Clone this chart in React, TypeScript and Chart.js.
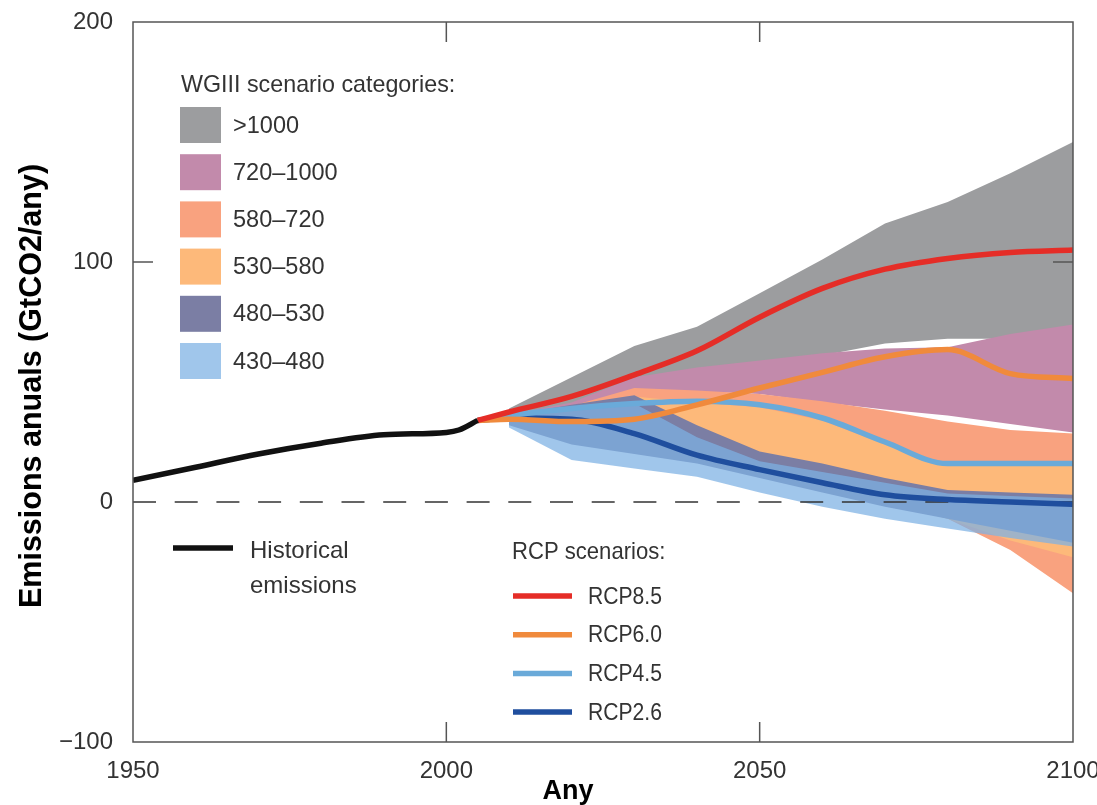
import React, { useEffect, useRef } from 'react';
import { Chart, registerables } from 'chart.js';

Chart.register(...registerables);

// ---------- data ----------
const histYears = [1950, 1960, 1970, 1980, 1990, 2000, 2002, 2005];
const histValues = [9, 14.5, 20, 24.5, 28, 29, 30, 34];

const rcpYears = [2005, 2010, 2020, 2030, 2040, 2050, 2060, 2070, 2080, 2090, 2100];
const rcp85 = [34, 37.5, 44, 53, 63, 77, 89, 97, 101.5, 104, 105];
const rcp60 = [34, 34.5, 33.5, 34.5, 40.5, 47.5, 54, 60.5, 63.5, 53.5, 51.5];
const rcp45 = [34, 36, 39, 41, 42, 40.5, 35, 25, 16, 16, 16];
const rcp26 = [34, 35, 34.5, 28.5, 19.5, 13.5, 8, 3, 1, 0, -1];

const bandYears = [2010, 2020, 2030, 2040, 2050, 2060, 2070, 2080, 2090, 2100];
const cat1000Upper = [39, 52, 65, 73, 87, 101, 116, 125, 137, 150];
const cat1000Lower = [36, 39, 47, 52, 56, 61, 66, 68, 68, 66];
const cat720Upper = [36.5, 41.5, 52, 56, 59, 62, 64, 64.5, 70, 74];
const cat720Lower = [35, 38, 46, 46, 45, 41.5, 38.5, 36, 32.5, 29];
const cat580Upper = [35.5, 40, 47.5, 46.5, 45, 42, 38, 33.5, 30, 28.5];
const cat580Lower = [34, 26, 22, 18, 12, 6, 0, -7, -20, -38];
const cat530Upper = [35, 38, 44, 41.5, 39.5, 34, 24, 15.5, 15.5, 15.5];
const cat530Lower = [34, 26, 22, 18, 12, 6, 0, -7, -16, -23];
const cat480Upper = [36, 40.5, 44.5, 32, 21, 16, 10, 5, 4, 3];
const cat480Lower = [32, 24, 20, 16, 10, 4, -2, -7, -12, -17];
const cat430Upper = [36, 39.5, 41, 27, 17, 12.5, 8, 3.5, 2.5, 1.5];
const cat430Lower = [31, 17.5, 14, 10.5, 4, -2, -7, -11, -15, -18.5];

const categoryLabels = ['>1000', '720\u20131000', '580\u2013720', '530\u2013580', '480\u2013530', '430\u2013480'];
const categoryColors = ['#9c9d9f', '#c28aab', '#f9a27f', '#fdb97a', '#7b7ea4', 'rgba(125,177,228,0.73)'];
const categoryUppers = [cat1000Upper, cat720Upper, cat580Upper, cat530Upper, cat480Upper, cat430Upper];
const categoryLowers = [cat1000Lower, cat720Lower, cat580Lower, cat530Lower, cat480Lower, cat430Lower];

const rcpLabels = ['RCP8.5', 'RCP6.0', 'RCP4.5', 'RCP2.6'];
const rcpColors = ['#e52d27', '#f08a3c', '#6aaad9', '#1f4e9e'];
const rcpSeries = [rcp85, rcp60, rcp45, rcp26];

const xTickStep = 50;
const yTickStep = 100;
const innerYTicks = [100];
const innerXTicks = [2000, 2050];

const yTitle = 'Emissions anuals (GtCO2/any)';
const xTitle = 'Any';
const legendTitle = 'WGIII scenario categories:';
const rcpTitle = 'RCP scenarios:';
const histLabel = ['Historical', 'emissions'];

const FONT = "'Liberation Sans', Arial, sans-serif";
const TEXT = '#333333';

function txt(ctx: CanvasRenderingContext2D, s: string, x: number, y: number, font: string, color: string,
  align: CanvasTextAlign = 'left', baseline: CanvasTextBaseline = 'middle', sx = 1) {
  ctx.save();
  ctx.font = font;
  ctx.fillStyle = color;
  ctx.textAlign = align;
  ctx.textBaseline = baseline;
  ctx.translate(x, y);
  ctx.scale(sx, 1);
  ctx.fillText(s, 0, 0);
  ctx.restore();
}

const overlayPlugin = {
  id: 'overlay',
  afterDraw(chart: any) {
    const ctx: CanvasRenderingContext2D = chart.ctx;
    const { left, right, top, bottom } = chart.chartArea;
    const xs = chart.scales.x;
    const ys = chart.scales.y;
    ctx.save();
    // frame
    ctx.strokeStyle = '#555555';
    ctx.lineWidth = 1.5;
    ctx.strokeRect(left, top, right - left, bottom - top);
    // inner tick marks
    ctx.beginPath();
    innerYTicks.forEach((v) => {
      const py = ys.getPixelForValue(v);
      ctx.moveTo(left, py); ctx.lineTo(left + 20, py);
      ctx.moveTo(right, py); ctx.lineTo(right - 20, py);
    });
    innerXTicks.forEach((v) => {
      const px = xs.getPixelForValue(v);
      ctx.moveTo(px, bottom); ctx.lineTo(px, bottom - 20);
      ctx.moveTo(px, top); ctx.lineTo(px, top + 20);
    });
    ctx.stroke();

    // axis titles
    ctx.save();
    ctx.translate(41, (top + bottom) / 2 + 4);
    ctx.rotate(-Math.PI / 2);
    ctx.font = `bold 30.5px ${FONT}`;
    ctx.fillStyle = '#000';
    ctx.textAlign = 'center';
    ctx.textBaseline = 'alphabetic';
    ctx.fillText(yTitle, 0, 0);
    ctx.restore();
    txt(ctx, xTitle, 568, 799, `bold 27px ${FONT}`, '#000', 'center', 'alphabetic');

    // category legend
    txt(ctx, legendTitle, 181, 92, `24px ${FONT}`, TEXT, 'left', 'alphabetic', 0.97);
    categoryLabels.forEach((lab, i) => {
      const y0 = 107 + i * 47.2;
      ctx.fillStyle = categoryColors[i];
      ctx.fillRect(180, y0, 41, 36);
      txt(ctx, lab, 233, y0 + 19, `24px ${FONT}`, TEXT, 'left', 'middle', 0.98);
    });

    // historical legend
    ctx.strokeStyle = '#111';
    ctx.lineWidth = 5.5;
    ctx.beginPath(); ctx.moveTo(173, 548); ctx.lineTo(233, 548); ctx.stroke();
    txt(ctx, histLabel[0], 250, 558, `24px ${FONT}`, TEXT, 'left', 'alphabetic');
    txt(ctx, histLabel[1], 250, 593, `24px ${FONT}`, TEXT, 'left', 'alphabetic');

    // RCP legend
    txt(ctx, rcpTitle, 512, 559, `24px ${FONT}`, TEXT, 'left', 'alphabetic', 0.92);
    rcpLabels.forEach((lab, i) => {
      const y = 596 + i * 38.7;
      ctx.strokeStyle = rcpColors[i];
      ctx.lineWidth = 5.5;
      ctx.beginPath(); ctx.moveTo(513, y); ctx.lineTo(572, y); ctx.stroke();
      txt(ctx, lab, 588, y + 1, `24px ${FONT}`, TEXT, 'left', 'middle', 0.88);
    });
    ctx.restore();
  },
};

export default function App() {
  const ref = useRef<HTMLCanvasElement | null>(null);

  useEffect(() => {
    if (!ref.current) return;
    const datasets: any[] = [];
    categoryLabels.forEach((lab, k) => {
      datasets.push({
        label: lab,
        data: bandYears.map((x, i) => ({ x, y: categoryUppers[k][i] })),
        borderWidth: 0,
        borderColor: 'rgba(0,0,0,0)',
        pointRadius: 0,
        fill: '+1',
        backgroundColor: categoryColors[k],
        order: 100 - k * 2,
        tension: 0,
      });
      datasets.push({
        label: lab + ' lower',
        data: bandYears.map((x, i) => ({ x, y: categoryLowers[k][i] })),
        borderWidth: 0,
        borderColor: 'rgba(0,0,0,0)',
        pointRadius: 0,
        fill: false,
        order: 99 - k * 2,
        tension: 0,
      });
    });
    datasets.push({
      label: 'zero',
      data: [{ x: 1950, y: 0 }, { x: 2100, y: 0 }],
      borderColor: '#333',
      borderWidth: 1.6,
      borderDash: [23, 18.7],
      pointRadius: 0,
      fill: false,
      order: 20,
    });
    const rcpOrder = [5, 6, 7, 8];
    rcpLabels.forEach((lab, k) => {
      datasets.push({
        label: lab,
        data: rcpYears.map((x, i) => ({ x, y: rcpSeries[k][i] })),
        borderColor: rcpColors[k],
        borderWidth: 5.5,
        pointRadius: 0,
        fill: false,
        cubicInterpolationMode: 'monotone',
        order: rcpOrder[k],
      });
    });
    datasets.push({
      label: 'Historical emissions',
      data: histYears.map((x, i) => ({ x, y: histValues[i] })),
      borderColor: '#111',
      borderWidth: 5.5,
      pointRadius: 0,
      fill: false,
      cubicInterpolationMode: 'monotone',
      order: 1,
    });

    const chart = new Chart(ref.current, {
      type: 'line',
      data: { datasets },
      plugins: [overlayPlugin],
      options: {
        animation: false,
        responsive: false,
        maintainAspectRatio: false,
        devicePixelRatio: 1,
        events: [],
        layout: { padding: { left: 0, top: 22, right: 24, bottom: 0 } },
        plugins: { legend: { display: false }, tooltip: { enabled: false } },
        scales: {
          x: {
            type: 'linear',
            min: 1950,
            max: 2100,
            border: { display: false },
            grid: { display: false, drawTicks: false },
            ticks: {
              stepSize: xTickStep,
              padding: 15,
              color: TEXT,
              font: { family: FONT, size: 24 },
              callback: (v: any) => String(v),
              maxRotation: 0,
            },
            afterFit: (s: any) => { s.height = 63; s.paddingLeft = 0; s.paddingRight = 0; },
          },
          y: {
            min: -100,
            max: 200,
            border: { display: false },
            grid: { display: false, drawTicks: false },
            ticks: {
              stepSize: yTickStep,
              padding: 20,
              color: TEXT,
              font: { family: FONT, size: 24 },
              callback: (v: any) => (v < 0 ? '\u2212' + Math.abs(v) : String(v)),
            },
            afterFit: (s: any) => { s.width = 133; s.paddingTop = 0; s.paddingBottom = 0; },
          },
        },
      },
    } as any);
    return () => chart.destroy();
  }, []);

  return (
    <div style={{ position: 'fixed', left: 0, top: 0, width: 1097, height: 805, background: '#fff' }}>
      <canvas ref={ref} width={1097} height={805} style={{ display: 'block' }} />
    </div>
  );
}
